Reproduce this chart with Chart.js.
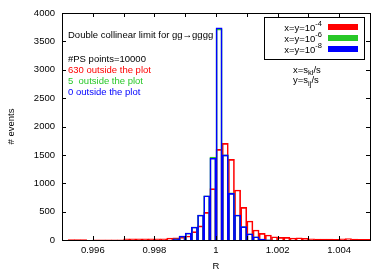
<!DOCTYPE html>
<html>
<head>
<meta charset="utf-8">
<script src="https://cdn.jsdelivr.net/npm/chart.js@4"></script>
<style>
  body { margin: 0; background: #fff; }
  #wrap { width: 389px; height: 273px; }
</style>
</head>
<body>
<div id="wrap"><canvas id="c"></canvas></div>
<script>
// bins of width 0.0002 between 0.995 and 1.005
const binCenters = Array.from({ length: 50 }, (_, i) => +(0.9951 + 0.0002 * i).toFixed(4))

const redCounts = [
  0, 8, 8, 8, 0, 5, 5, 5, 5, 5,
  20, 20, 20, 20, 22, 22, 22, 35, 40, 50,
  70, 147, 250, 488, 905, 1598, 1703, 1421, 881, 576,
  335, 176, 118, 88, 58, 47, 47, 35, 40, 30,
  20, 15, 15, 15, 12, 20, 25, 15, 12, 10
]
const greenCounts = [
  0, 0, 0, 0, 0, 0, 0, 0, 0, 0,
  0, 0, 0, 0, 0, 0, 0, 0, 20, 70,
  123, 229, 440, 780, 1460, 3720, 1500, 830, 440, 235,
  110, 58, 15, 5, 0, 0, 0, 0, 0, 0,
  0, 0, 0, 0, 0, 0, 0, 0, 0, 0
]
const blueCounts = [
  0, 0, 0, 0, 0, 0, 0, 0, 0, 0,
  0, 0, 0, 0, 0, 0, 0, 0, 20, 70,
  123, 229, 440, 780, 1440, 3740, 1500, 822, 440, 235,
  110, 58, 15, 5, 0, 0, 0, 0, 0, 0,
  0, 0, 0, 0, 0, 0, 0, 0, 0, 0
]

const exponents = ['-4', '-6', '-8']
const outsideCounts = [630, 5, 0]
const psPoints = 10000
const xTickLabels = ['0.996', '0.998', '1', '1.002', '1.004']
const yTickLabels = ['0', '500', '1000', '1500', '2000', '2500', '3000', '3500', '4000']

const colors = ['rgb(255,0,0)', 'rgb(40,200,40)', 'rgb(0,0,255)']
const FONT = '"Liberation Sans", Arial, sans-serif'

Chart.defaults.font.family = FONT
Chart.defaults.font.size = 9.5
Chart.defaults.color = '#000'

const toPoints = (arr) => binCenters.map((x, i) => ({ x, y: arr[i] }))

// inward ticks and the frame, gnuplot style
const frame = {
  id: 'frame',
  afterDatasetsDraw (chart) {
    const { ctx, chartArea: a, scales } = chart
    ctx.save()
    ctx.strokeStyle = '#000'
    ctx.lineWidth = 1
    ctx.beginPath()
    scales.x.ticks.forEach(t => {
      const px = Math.round(scales.x.getPixelForValue(t.value)) + 0.5
      ctx.moveTo(px, a.bottom); ctx.lineTo(px, a.bottom - 4)
      ctx.moveTo(px, a.top); ctx.lineTo(px, a.top + 4)
    })
    scales.y.ticks.forEach(t => {
      const py = Math.round(scales.y.getPixelForValue(t.value)) + 0.5
      ctx.moveTo(a.left, py); ctx.lineTo(a.left + 4, py)
      ctx.moveTo(a.right, py); ctx.lineTo(a.right - 4, py)
    })
    ctx.stroke()
    ctx.strokeRect(Math.round(a.left) + 0.5, Math.round(a.top) + 0.5,
      Math.round(a.right - a.left), Math.round(a.bottom - a.top))
    ctx.restore()
  }
}

function subText (ctx, x, y, parts) {
  // parts: [text, shift] where shift < 0 raises, > 0 lowers
  let cx = x
  parts.forEach(([txt, shift]) => {
    ctx.font = (shift ? '7.5px ' : '9.5px ') + FONT
    ctx.fillText(txt, cx, y + shift)
    cx += ctx.measureText(txt).width
  })
}

const notes = {
  id: 'notes',
  afterDraw (chart) {
    const { ctx, chartArea: a } = chart
    ctx.save()
    ctx.textBaseline = 'middle'
    ctx.textAlign = 'left'
    ctx.font = '9.5px ' + FONT
    const lx = a.left + 6
    ctx.fillStyle = '#000'
    ctx.fillText('Double collinear limit for gg\u2192gggg', lx, a.top + 22)
    ctx.fillText('#PS points=' + psPoints, lx, a.top + 46.5)
    ctx.fillStyle = colors[0]
    ctx.fillText(outsideCounts[0] + ' outside the plot', lx, a.top + 57.5)
    ctx.fillStyle = colors[1]
    ctx.fillText(outsideCounts[1] + '  outside the plot', lx, a.top + 68.5)
    ctx.fillStyle = colors[2]
    ctx.fillText(outsideCounts[2] + ' outside the plot', lx, a.top + 79.5)

    ctx.fillStyle = '#000'
    subText(ctx, a.right - 77, a.top + 57, [['x=s', 0], ['kl', 3], ['/s', 0]])
    subText(ctx, a.right - 77, a.top + 67.5, [['y=s', 0], ['ij', 3], ['/s', 0]])

    // legend box
    const bx = a.right - 106
    const by = a.top + 4
    ctx.strokeStyle = '#000'
    ctx.lineWidth = 1
    ctx.strokeRect(Math.round(bx) + 0.5, Math.round(by) + 0.5, 100, 42)
    chart.data.datasets.forEach((ds, i) => {
      const ly = by + 11 + i * 11
      ctx.font = '7.5px ' + FONT
      const supW = ctx.measureText(exponents[i]).width
      ctx.font = '9.5px ' + FONT
      const endX = bx + 58
      ctx.fillStyle = '#000'
      ctx.textAlign = 'right'
      ctx.fillText('x=y=10', endX - supW, ly)
      ctx.textAlign = 'left'
      ctx.font = '7.5px ' + FONT
      ctx.fillText(exponents[i], endX - supW, ly - 4)
      ctx.fillStyle = ds.borderColor
      ctx.fillRect(bx + 64, ly - 4, 30, 6)
    })
    ctx.restore()
  }
}

const ctx = document.getElementById('c')

new Chart(ctx, {
  type: 'bar',
  data: {
    datasets: [{
      label: 'x=y=10^' + exponents[0],
      data: toPoints(redCounts),
      borderColor: colors[0],
      order: 3
    }, {
      label: 'x=y=10^' + exponents[1],
      data: toPoints(greenCounts),
      borderColor: colors[1],
      order: 2
    }, {
      label: 'x=y=10^' + exponents[2],
      data: toPoints(blueCounts),
      borderColor: colors[2],
      order: 1
    }]
  },
  options: {
    responsive: true,
    maintainAspectRatio: false,
    animation: false,
    layout: { padding: { top: 13, right: 19, left: 0, bottom: 0 } },
    datasets: {
      bar: {
        backgroundColor: 'rgba(0,0,0,0)',
        borderWidth: 1,
        barPercentage: 1,
        categoryPercentage: 1,
        grouped: false
      }
    },
    plugins: {
      legend: { display: false },
      tooltip: { enabled: false }
    },
    scales: {
      x: {
        type: 'linear',
        min: 0.995,
        max: 1.005,
        offset: false,
        grid: { display: false, drawTicks: false },
        border: { display: false },
        ticks: {
          stepSize: 0.001,
          padding: 5,
          maxRotation: 0,
          autoSkip: false,
          callback: (v) => xTickLabels.find(l => Math.abs(+l - v) < 1e-7) || ''
        },
        title: { display: true, text: 'R', padding: { top: 0, bottom: 1 } },
        afterFit: (s) => { s.height = 33 }
      },
      y: {
        min: 0,
        max: 4000,
        grid: { display: false, drawTicks: false },
        border: { display: false },
        ticks: {
          stepSize: 500,
          padding: 7,
          callback: (v) => yTickLabels.find(l => +l === v) || ''
        },
        title: { display: true, text: '# events', padding: { top: 6, bottom: 0 } },
        afterFit: (s) => { s.width = 62 }
      }
    }
  },
  plugins: [frame, notes]
})
</script>
</body>
</html>
